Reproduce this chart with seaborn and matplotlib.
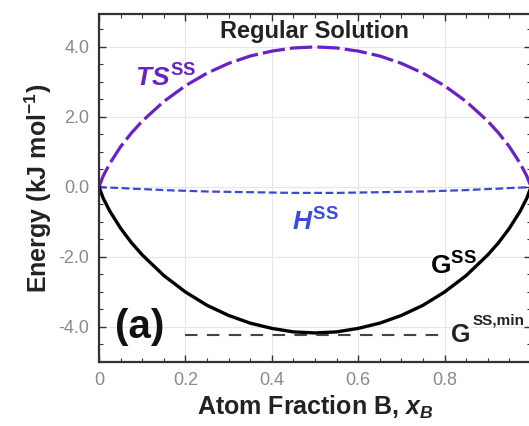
import numpy as np
import pandas as pd
import matplotlib
matplotlib.use("Agg")
import matplotlib.pyplot as plt
import seaborn as sns
from matplotlib.ticker import MultipleLocator, FixedLocator, FixedFormatter

# ---- data ----
x_B = [0, 0.01, 0.025, 0.05, 0.075, 0.1, 0.15, 0.2, 0.25, 0.3, 0.35, 0.4, 0.45, 0.5,
       0.55, 0.6, 0.65, 0.7, 0.75, 0.8, 0.85, 0.9, 0.925, 0.95, 0.975, 0.99, 1.0]
TS_ss = [0, 0.32, 0.67, 1.15, 1.54, 1.88, 2.44, 2.89, 3.25, 3.53, 3.74, 3.88, 3.97, 4.00,
         3.97, 3.88, 3.74, 3.53, 3.25, 2.89, 2.44, 1.88, 1.54, 1.15, 0.67, 0.32, 0]
H_ss = [0, -0.01, -0.02, -0.03, -0.05, -0.06, -0.09, -0.11, -0.13, -0.14, -0.15, -0.16, -0.17, -0.17,
        -0.17, -0.16, -0.15, -0.14, -0.13, -0.11, -0.09, -0.06, -0.05, -0.03, -0.02, -0.01, 0]
G_ss = [0, -0.33, -0.69, -1.18, -1.59, -1.94, -2.53, -3.00, -3.38, -3.67, -3.89, -4.04, -4.14, -4.17,
        -4.14, -4.04, -3.89, -3.67, -3.38, -3.00, -2.53, -1.94, -1.59, -1.18, -0.69, -0.33, 0]
Gmin_x = [0.2, 0.79]
Gmin_y = [-4.22, -4.22]

xticks = [0, 0.2, 0.4, 0.6, 0.8, 1.0]
xticklabels = ["0", "0.2", "0.4", "0.6", "0.8", ""]
yticks = [-4.0, -2.0, 0.0, 2.0, 4.0]
yticklabels = ["-4.0", "-2.0", "0.0", "2.0", "4.0"]

df = pd.DataFrame({"x": x_B, "TS": TS_ss, "H": H_ss, "G": G_ss})
dmin = pd.DataFrame({"x": Gmin_x, "y": Gmin_y})

sns.set_theme(style="ticks")
plt.rcParams["font.family"] = ["Liberation Sans", "DejaVu Sans"]
plt.rcParams["mathtext.fontset"] = "custom"
plt.rcParams["mathtext.rm"] = "Liberation Sans:bold"
plt.rcParams["mathtext.bf"] = "Liberation Sans:bold"
plt.rcParams["mathtext.it"] = "Liberation Sans:bold:italic"
plt.rcParams["mathtext.sf"] = "Liberation Sans:bold"

fig = plt.figure(figsize=(5.29, 4.26), dpi=100)
ax = fig.add_axes([99 / 529, 1 - 362 / 426, (531 - 99) / 529, (362 - 14) / 426])

ax.grid(True, which="major", color="#e6e6e6", lw=0.8)
ax.set_axisbelow(True)

sns.lineplot(data=df, x="x", y="TS", ax=ax, color="#6a1fc8", lw=2.3,
             linestyle=(0, (7, 1.6)), sort=False)
sns.lineplot(data=df, x="x", y="H", ax=ax, color="#3a48d8", lw=1.6,
             linestyle=(0, (3.5, 1.6)), sort=False)
sns.lineplot(data=df, x="x", y="G", ax=ax, color="black", lw=2.4, sort=False)
sns.lineplot(data=dmin, x="x", y="y", ax=ax, color="#444444", lw=1.5,
             linestyle=(0, (6, 4.5)), sort=False)

ax.set_xlim(0, 1.0)
ax.set_ylim(-5.0, 4.94)

ax.xaxis.set_major_locator(FixedLocator(xticks))
ax.xaxis.set_major_formatter(FixedFormatter(xticklabels))
ax.xaxis.set_minor_locator(MultipleLocator(0.05))
ax.yaxis.set_major_locator(FixedLocator(yticks))
ax.yaxis.set_major_formatter(FixedFormatter(yticklabels))
ax.yaxis.set_minor_locator(MultipleLocator(0.5))

ax.tick_params(which="both", direction="in", top=True, right=True, colors="#333333",
               labelcolor="#8a8a8a", labelsize=13)
ax.tick_params(which="major", length=5, width=1.0, pad=7)
ax.tick_params(which="minor", length=3, width=0.8)
for s in ax.spines.values():
    s.set_color("#333333")
    s.set_linewidth(1.6)

ax.set_xlabel("Atom Fraction B, $x_B$", fontsize=18, fontweight="bold", color="#222222", labelpad=4)
ax.set_ylabel("Energy (kJ mol$^{\\mathbf{-1}}$)", fontsize=18, fontweight="bold", color="#222222", labelpad=3)

ax.text(0.5, 4.26, "Regular Solution", fontsize=17, fontweight="bold", color="#222222",
        ha="center", va="baseline")
ax.text(0.155, 3.1, "$TS^{\\mathbf{SS}}$", fontsize=19, color="#6a1fc8", ha="center", va="center")
ax.text(0.50, -1.0, "$H^{\\mathbf{SS}}$", fontsize=19, color="#3a4ae0", ha="center", va="center")
ax.text(0.82, -2.25, "$\\mathbf{G}^{\\mathbf{SS}}$", fontsize=19, color="black", ha="center", va="center")
ax.text(0.815, -4.42, "G", fontsize=18, fontweight="bold", color="#222222", ha="left", va="baseline")
ax.text(0.864, -3.92, "SS,min", fontsize=11, fontweight="bold", color="#222222", ha="left", va="baseline")
ax.text(0.095, -4.0, "(a)", fontsize=29, fontweight="bold", color="#111111", ha="center", va="center")

fig.savefig("out.png", dpi=100)
